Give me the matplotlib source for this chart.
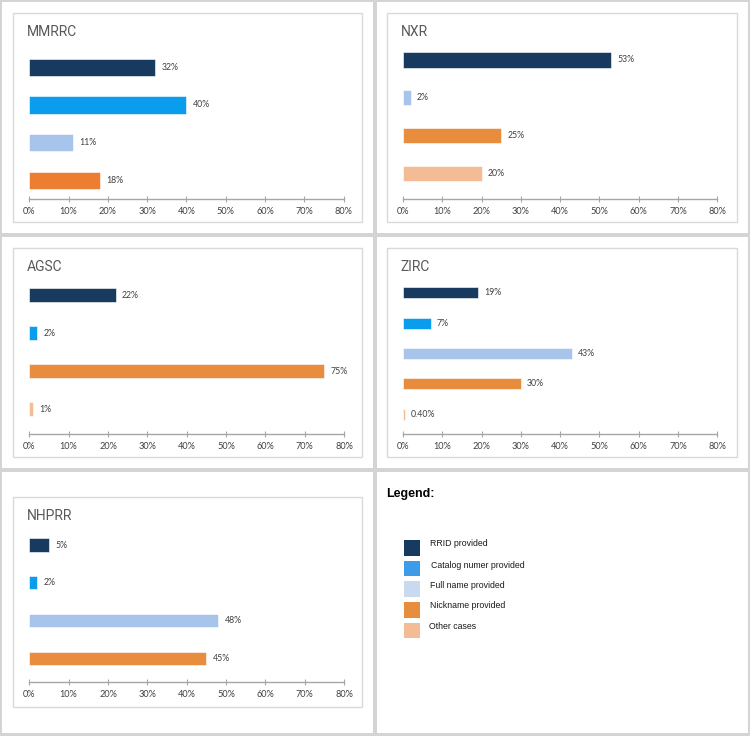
import matplotlib
matplotlib.use("Agg")
import matplotlib.pyplot as plt
from matplotlib.patches import Rectangle

# ---------------- data ----------------
categories = ["RRID provided", "Catalog numer provided", "Full name provided",
              "Nickname provided", "Other cases"]
bar_colors = {"RRID provided": "#173a5e", "Catalog numer provided": "#0a9ded",
              "Full name provided": "#a9c4eb", "Nickname provided": "#e88c3e",
              "Other cases": "#f4bc95"}
legend_colors = ["#173a5e", "#3d9be9", "#c9d9ef", "#e88c3e", "#f4bc95"]

mmrrc_cats = ["RRID provided", "Catalog numer provided", "Full name provided", "Nickname provided"]
mmrrc_vals = [32, 40, 11, 18]
mmrrc_labels = ["32%", "40%", "11%", "18%"]

nxr_cats = ["RRID provided", "Full name provided", "Nickname provided", "Other cases"]
nxr_vals = [53, 2, 25, 20]
nxr_labels = ["53%", "2%", "25%", "20%"]

agsc_cats = ["RRID provided", "Catalog numer provided", "Nickname provided", "Other cases"]
agsc_vals = [22, 2, 75, 1]
agsc_labels = ["22%", "2%", "75%", "1%"]

zirc_cats = ["RRID provided", "Catalog numer provided", "Full name provided",
             "Nickname provided", "Other cases"]
zirc_vals = [19, 7, 43, 30, 0.4]
zirc_labels = ["19%", "7%", "43%", "30%", "0.40%"]

nhprr_cats = ["RRID provided", "Catalog numer provided", "Full name provided", "Nickname provided"]
nhprr_vals = [5, 2, 48, 45]
nhprr_labels = ["5%", "2%", "48%", "45%"]

x_ticks = [0, 10, 20, 30, 40, 50, 60, 70, 80]
x_ticklabels = ["0%", "10%", "20%", "30%", "40%", "50%", "60%", "70%", "80%"]

# ---------------- layout (pixels, top-left origin) ----------------
W, H = 750, 736
fig = plt.figure(figsize=(W / 100, H / 100), dpi=100, facecolor="#d4d4d4")


def rect_px(x0, y0, x1, y1, **kw):
    r = Rectangle((x0 / W, 1 - y1 / H), (x1 - x0) / W, (y1 - y0) / H,
                  transform=fig.transFigure, **kw)
    fig.add_artist(r)


# white cells
for (x0, x1) in [(2, 373), (377, 748)]:
    for (y0, y1) in [(2, 233), (237, 468), (472, 733)]:
        rect_px(x0, y0, x1, y1, facecolor="white", edgecolor="none", zorder=-10)

# inner chart boxes
inner_boxes = [(13, 13, 362, 222), (387, 13, 737, 222), (13, 248, 362, 457),
               (387, 248, 737, 457), (13, 497, 362, 707)]
for b in inner_boxes:
    rect_px(*b, facecolor="white", edgecolor="#d9d9d9", linewidth=1, zorder=-5)

panels = [
    # title, cats, vals, labels, x0px, x80px, first_center, spacing, axis_y, bar_h, title_xy
    ("MMRRC", mmrrc_cats, mmrrc_vals, mmrrc_labels, 29.3, 343.5, 67.2, 37.8, 199, 0.45, (26.5, 32)),
    ("NXR", nxr_cats, nxr_vals, nxr_labels, 403, 717.3, 60, 37.7, 199, 0.40, (400.5, 32)),
    ("AGSC", agsc_cats, agsc_vals, agsc_labels, 29.3, 344, 295.3, 38.0, 434, 0.37, (26.5, 267)),
    ("ZIRC", zirc_cats, zirc_vals, zirc_labels, 403, 717.3, 292.8, 30.35, 434, 0.36, (400.5, 267)),
    ("NHPRR", nhprr_cats, nhprr_vals, nhprr_labels, 29.3, 344, 545, 37.8, 682, 0.35, (26.5, 516)),
]

num_font = "Lato"
for (title, cats, vals, labels, x0, x80, c0, sp, ay, bh, (tx, ty)) in panels:
    n = len(cats)
    top = c0 - sp / 2
    ax = fig.add_axes([x0 / W, 1 - ay / H, (x80 - x0) / W, (ay - top) / H])
    ax.set_facecolor("none")
    ypos = list(range(n))
    cols = [bar_colors[c] for c in cats]
    if title == "MMRRC":
        cols = [("#ed7d31" if c == "Nickname provided" else bar_colors[c]) for c in cats]
    ax.barh(ypos, vals, height=bh, color=cols, edgecolor="white", linewidth=0.4)
    for y, v, lab in zip(ypos, vals, labels):
        ax.annotate(lab, (v, y), xytext=(4.5, 0), textcoords="offset points",
                    va="center", ha="left", fontsize=6.3, color="#404040",
                    family=num_font)
    ax.set_xlim(0, 80)
    ax.set_ylim((ay - c0) / sp, -0.5)
    ax.set_yticks([])
    for s in ["top", "right", "left"]:
        ax.spines[s].set_visible(False)
    ax.spines["bottom"].set_color("#a6a6a6")
    ax.spines["bottom"].set_linewidth(1)
    ax.set_xticks(x_ticks)
    ax.set_xticklabels(x_ticklabels, fontsize=6.6, color="#404040", family=num_font)
    ax.tick_params(axis="x", direction="inout", length=4, width=0.8,
                   color="#a6a6a6", pad=3.5)
    fig.text(tx / W, 1 - ty / H, title, ha="left", va="center",
             fontsize=10, color="#595959", family="Roboto")

# ---------------- legend panel ----------------
fig.text(386.5 / W, 1 - 493.5 / H, "Legend:", ha="left", va="center",
         fontsize=9, fontweight="bold", color="black", family="Liberation Sans")
sq_tops = [540, 560.7, 581.3, 602, 622.7]
txt_y = [544, 565, 586, 606, 626.7]
txt_x = [429.7, 430.7, 429.7, 429.7, 429]
for cat, col, st, ty_, tx_ in zip(categories, legend_colors, sq_tops, txt_y, txt_x):
    rect_px(404.3, st, 419.7, st + 15.5, facecolor=col, edgecolor="none")
    fig.text(tx_ / W, 1 - ty_ / H, cat, ha="left", va="center", fontsize=6.3,
             color="#1a1a1a", family="Liberation Sans")

fig.savefig("out.png", dpi=100, facecolor=fig.get_facecolor())
